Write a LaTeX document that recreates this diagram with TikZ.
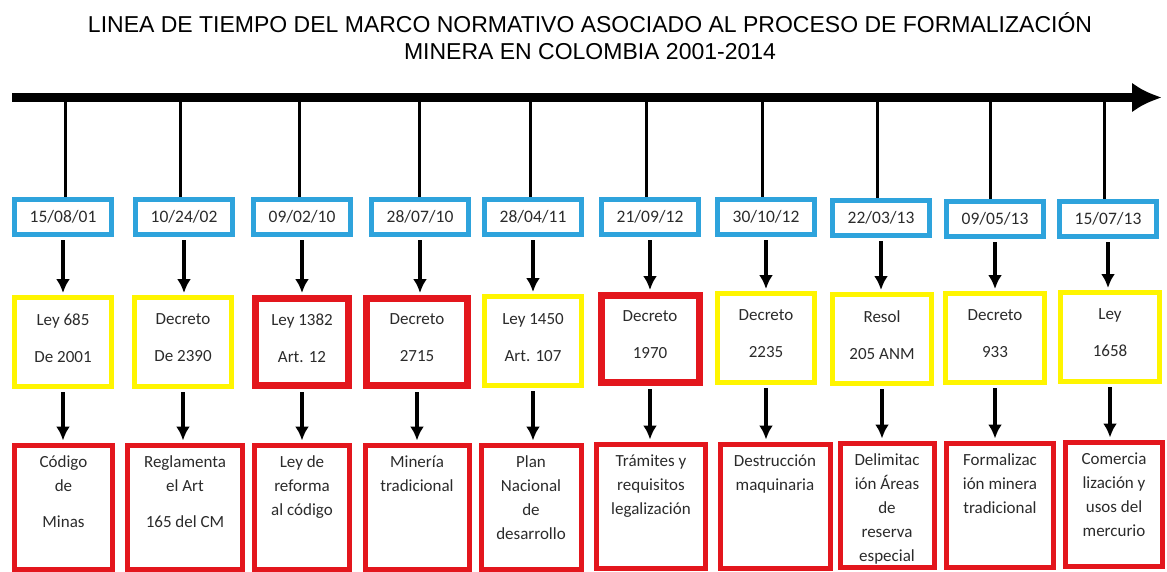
\documentclass[tikz,border=0pt]{standalone}
\usepackage{fontspec}
\setmainfont{Carlito}
\newfontfamily\titulofont{Liberation Sans}
\usepackage{xcolor}
\usetikzlibrary{arrows.meta}
\tikzset{>={Latex[length=14pt,width=14pt]}}

\definecolor{azulfecha}{HTML}{2EA3DC}
\definecolor{amarilloley}{HTML}{FFF500}
\definecolor{rojoley}{HTML}{E3161D}
\definecolor{gristexto}{HTML}{2B2B2B}

% texto anclado arriba en las casillas de abajo
\newcommand{\cuadro}[2]{\parbox[c][102pt][t]{#1pt}{\centering #2}}

\tikzset{
	eje/.style={line width=9pt,-{Latex[length=30pt,width=30pt]}},
	ramal/.style={line width=3pt},
	flecha/.style={line width=3.5pt,->,shorten <=3pt,shorten >=2pt},
	fecha/.style={draw=azulfecha,line width=5pt,minimum width=97pt,minimum height=35pt,
		inner sep=0pt,text=gristexto,font=\fontsize{17.5}{21}\selectfont},
	ley/.style={draw=amarilloley,line width=5pt,minimum width=97pt,minimum height=89pt,
		inner sep=0pt,align=center,text=gristexto,font=\fontsize{17}{37}\selectfont,
		execute at end node={\rule[-8pt]{0pt}{8pt}}},
	leyroja/.style={ley,draw=rojoley,line width=7pt,minimum width=93pt,minimum height=87pt},
	efecto/.style={draw=rojoley,line width=5pt,inner xsep=2pt,inner ysep=11pt,
		text=gristexto,font=\fontsize{17}{24}\selectfont}
}

\begin{document}
\begin{tikzpicture}[x=1pt,y=-1pt]
	\useasboundingbox (0,0) rectangle (1167,572);

	% Titulo
	\node[font=\titulofont\fontsize{23}{27.5}\selectfont,text=black,align=center] (titulo) at (590,36)
		{LINEA DE TIEMPO DEL MARCO NORMATIVO ASOCIADO AL PROCESO DE FORMALIZACIÓN\\MINERA EN COLOMBIA 2001-2014};

	% Eje del tiempo
	\coordinate (inicio) at (12,97.5);
	\coordinate (fin) at (1162,97.5);
	\draw[eje] (inicio) -- (fin);

	% Puntos sobre el eje
	\coordinate (t1) at (65,97.5);
	\coordinate (t2) at (180,97.5);
	\coordinate (t3) at (299,97.5);
	\coordinate (t4) at (419,97.5);
	\coordinate (t5) at (530,97.5);
	\coordinate (t6) at (646,97.5);
	\coordinate (t7) at (762,97.5);
	\coordinate (t8) at (877,97.5);
	\coordinate (t9) at (990,97.5);
	\coordinate (t10) at (1104,97.5);

	% Fechas
	\node[fecha] (d1) at (63,217) {15/08/01};
	\node[fecha] (d2) at (184,217) {10/24/02};
	\node[fecha] (d3) at (302,217) {09/02/10};
	\node[fecha] (d4) at (420,217) {28/07/10};
	\node[fecha] (d5) at (533,217) {28/04/11};
	\node[fecha] (d6) at (650,217) {21/09/12};
	\node[fecha] (d7) at (766,217) {30/10/12};
	\node[fecha] (d8) at (881,218) {22/03/13};
	\node[fecha] (d9) at (995,219) {09/05/13};
	\node[fecha] (d10) at (1108,219) {15/07/13};

	% Normas
	\node[ley] (l1) at (63,342) {Ley 685\\De 2001};
	\node[ley] (l2) at (183,342) {Decreto\\De 2390};
	\node[leyroja] (l3) at (302,342) {Ley 1382\\Art. 12};
	\node[leyroja,minimum width=101pt] (l4) at (417,342) {Decreto\\2715};
	\node[ley] (l5) at (533,341) {Ley 1450\\Art. 107};
	\node[leyroja,minimum width=98pt] (l6) at (650,339) {Decreto\\1970};
	\node[ley] (l7) at (766,338) {Decreto\\2235};
	\node[ley,minimum width=99pt] (l8) at (882,339) {Resol\\205 ANM};
	\node[ley,minimum width=99pt] (l9) at (995,338) {Decreto\\933};
	\node[ley,minimum width=99pt] (l10) at (1110,337) {Ley\\1658};

	% Que regula cada norma
	\node[efecto] (c1) at (63.5,507) {\cuadro{94}{Código\\de\\[12pt]Minas}};
	\node[efecto] (c2) at (185,507) {\cuadro{111}{Reglamenta\\el Art\\[12pt]165 del CM}};
	\node[efecto] (c3) at (302,507) {\cuadro{91}{Ley de\\reforma\\al código}};
	\node[efecto] (c4) at (417,507) {\cuadro{100}{Minería\\tradicional}};
	\node[efecto] (c5) at (531,507) {\cuadro{96}{Plan\\Nacional\\de\\desarrollo}};
	\node[efecto] (c6) at (651,506) {\cuadro{105}{Trámites y\\requisitos\\legalización}};
	\node[efecto] (c7) at (775,506) {\cuadro{106}{Destrucción\\maquinaria}};
	\node[efecto] (c8) at (887,505) {\cuadro{90}{Delimitac\\ión Áreas\\de\\reserva\\especial}};
	\node[efecto] (c9) at (1000,505) {\cuadro{103}{Formalizac\\ión minera\\tradicional}};
	\node[efecto] (c10) at (1114,504) {\cuadro{93}{Comercia\\lización y\\usos del\\mercurio}};

	% Conexiones
	\draw[ramal] (t1) -- (t1 |- d1.north); \draw[flecha] (d1.south) -- (d1.south |- l1.north); \draw[flecha] (l1.south) -- (l1.south |- c1.north);
	\draw[ramal] (t2) -- (t2 |- d2.north); \draw[flecha] (d2.south) -- (d2.south |- l2.north); \draw[flecha] (l2.south) -- (l2.south |- c2.north);
	\draw[ramal] (t3) -- (t3 |- d3.north); \draw[flecha] (d3.south) -- (d3.south |- l3.north); \draw[flecha] (l3.south) -- (l3.south |- c3.north);
	\draw[ramal] (t4) -- (t4 |- d4.north); \draw[flecha] (d4.south) -- (d4.south |- l4.north); \draw[flecha] (l4.south) -- (l4.south |- c4.north);
	\draw[ramal] (t5) -- (t5 |- d5.north); \draw[flecha] (d5.south) -- (d5.south |- l5.north); \draw[flecha] (l5.south) -- (l5.south |- c5.north);
	\draw[ramal] (t6) -- (t6 |- d6.north); \draw[flecha] (d6.south) -- (d6.south |- l6.north); \draw[flecha] (l6.south) -- (l6.south |- c6.north);
	\draw[ramal] (t7) -- (t7 |- d7.north); \draw[flecha] (d7.south) -- (d7.south |- l7.north); \draw[flecha] (l7.south) -- (l7.south |- c7.north);
	\draw[ramal] (t8) -- (t8 |- d8.north); \draw[flecha] (d8.south) -- (d8.south |- l8.north); \draw[flecha] (l8.south) -- (l8.south |- c8.north);
	\draw[ramal] (t9) -- (t9 |- d9.north); \draw[flecha] (d9.south) -- (d9.south |- l9.north); \draw[flecha] (l9.south) -- (l9.south |- c9.north);
	\draw[ramal] (t10) -- (t10 |- d10.north); \draw[flecha] (d10.south) -- (d10.south |- l10.north); \draw[flecha] (l10.south) -- (l10.south |- c10.north);
\end{tikzpicture}
\end{document}
